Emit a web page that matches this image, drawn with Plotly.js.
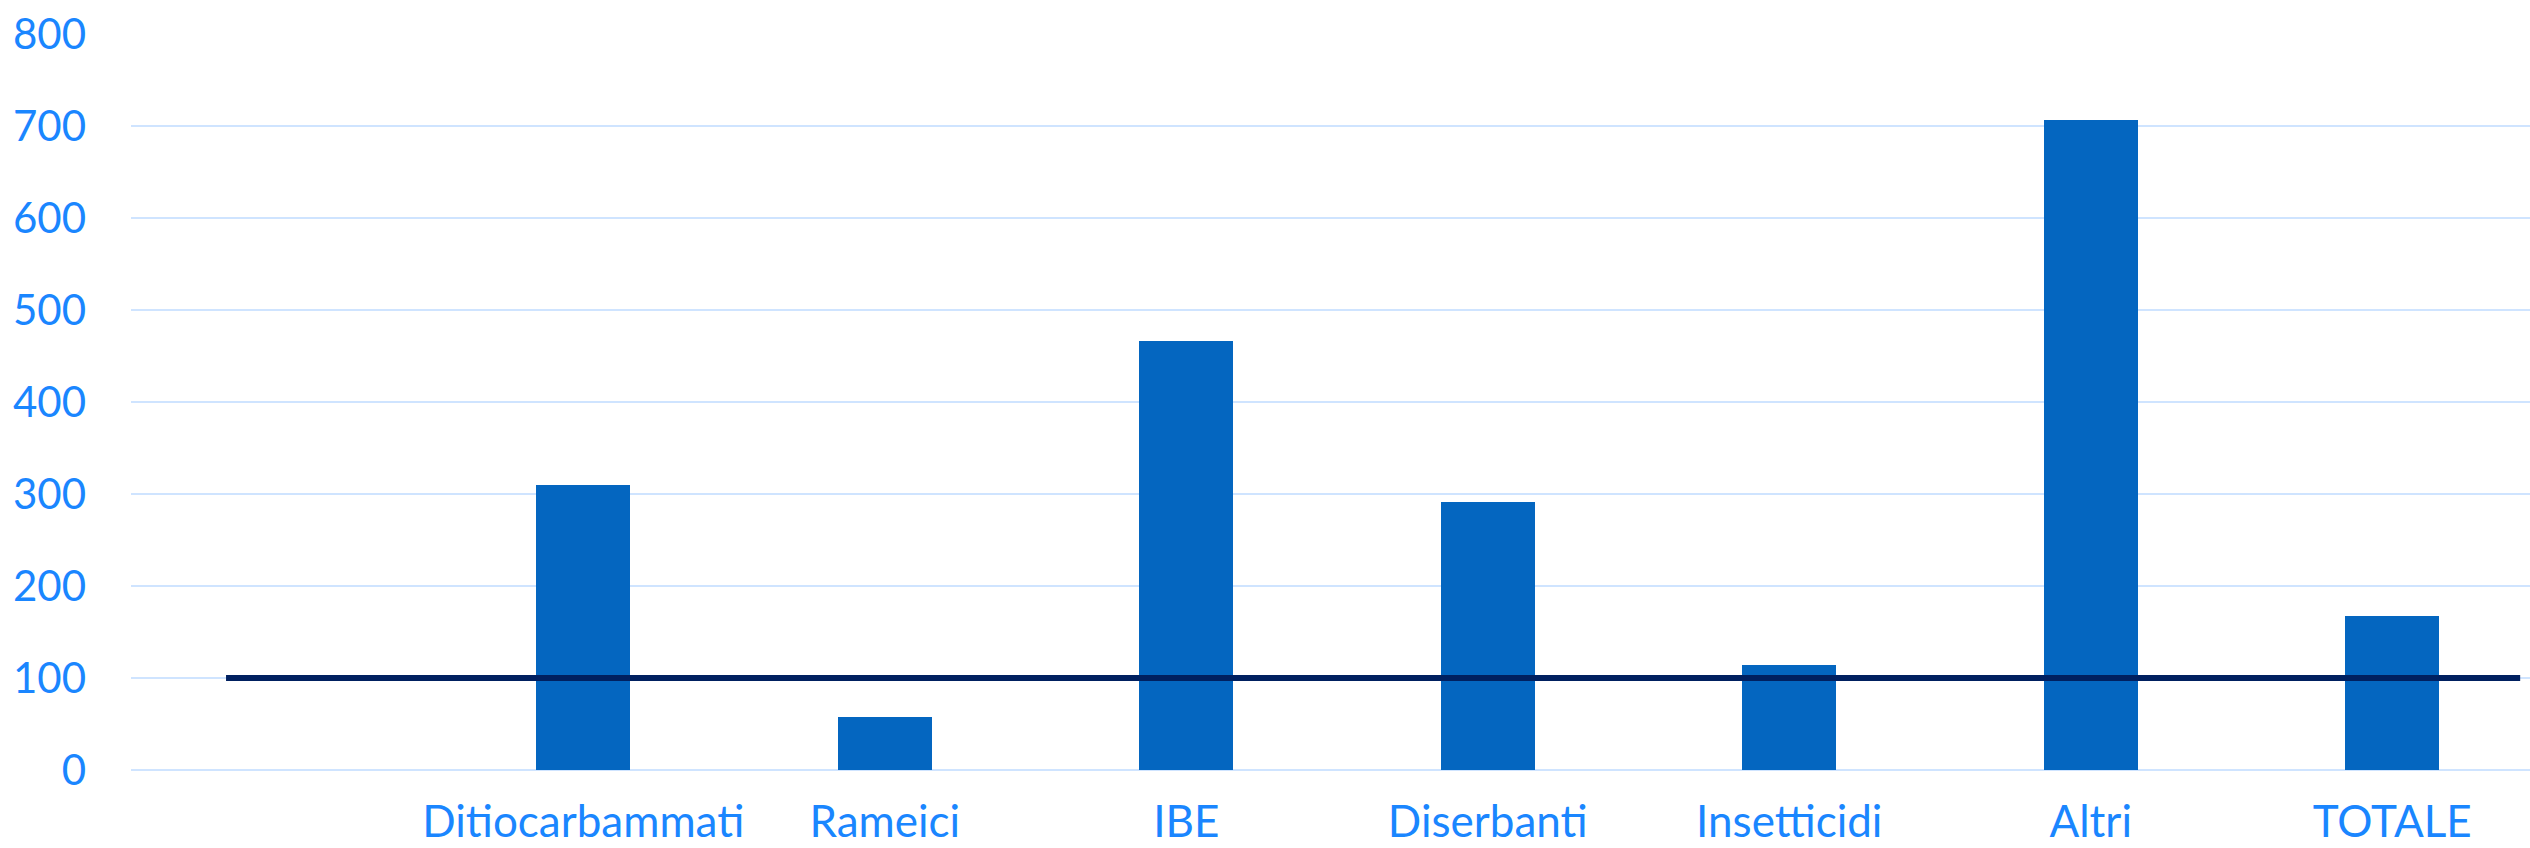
<!DOCTYPE html>
<html>
<head>
<meta charset="utf-8">
<script src="https://cdn.plot.ly/plotly-3.0.1.min.js"></script>
<style>
html,body{margin:0;padding:0;background:#fff;overflow:hidden;}
#chart{width:2530px;height:848px;}
</style>
</head>
<body>
<div id="chart"></div>
<script>
// Data
const categories = ["", "Ditiocarbammati", "Rameici", "IBE", "Diserbanti", "Insetticidi", "Altri", "TOTALE"];
const barValues = [null, 310, 58, 466, 291, 114, 707, 167];
const lineValues = [100, 100, 100, 100, 100, 100, 100, 100];
const yTicks = [0, 100, 200, 300, 400, 500, 600, 700, 800];

const idx = categories.map((_, i) => i);

const labelColor = "#1a86ff";
const gridColor = "#cfe4ff";
const fontFam = "Lato, 'Open Sans', sans-serif";

const traces = [
  {
    type: "bar",
    x: idx,
    y: barValues,
    width: 0.312,
    marker: { color: "#0466c0", line: { width: 0 } },
    hoverinfo: "x+y",
    showlegend: false
  },
  {
    type: "scatter",
    mode: "lines",
    x: idx,
    y: lineValues,
    xaxis: "x2",
    line: { color: "#002060", width: 6 },
    showlegend: false
  }
];

const layout = {
  width: 2530,
  height: 848,
  margin: { l: 131, r: 0, t: 34, b: 78, pad: 0 },
  paper_bgcolor: "#ffffff",
  plot_bgcolor: "#ffffff",
  showlegend: false,
  bargap: 0,
  xaxis: {
    range: [-0.5, 7.457],
    tickmode: "array",
    tickvals: idx,
    ticktext: categories,
    showgrid: false,
    zeroline: false,
    showline: false,
    ticks: "",
    ticklabelstandoff: 22,
    tickfont: { family: fontFam, size: 44, color: labelColor },
    fixedrange: true
  },
  xaxis2: {
    overlaying: "x",
    range: [-0.29, 7.03],
    visible: false,
    showgrid: false,
    zeroline: false,
    fixedrange: true
  },
  yaxis: {
    range: [0, 800],
    tickmode: "array",
    tickvals: yTicks,
    ticktext: yTicks.map(String),
    showgrid: true,
    gridcolor: gridColor,
    gridwidth: 2,
    zeroline: true,
    zerolinecolor: gridColor,
    zerolinewidth: 2,
    showline: false,
    ticks: "",
    ticklabelstandoff: 44,
    tickfont: { family: fontFam, size: 42, color: labelColor },
    fixedrange: true
  }
};

Plotly.newPlot("chart", traces, layout, { displayModeBar: false, staticPlot: true });
</script>
</body>
</html>
